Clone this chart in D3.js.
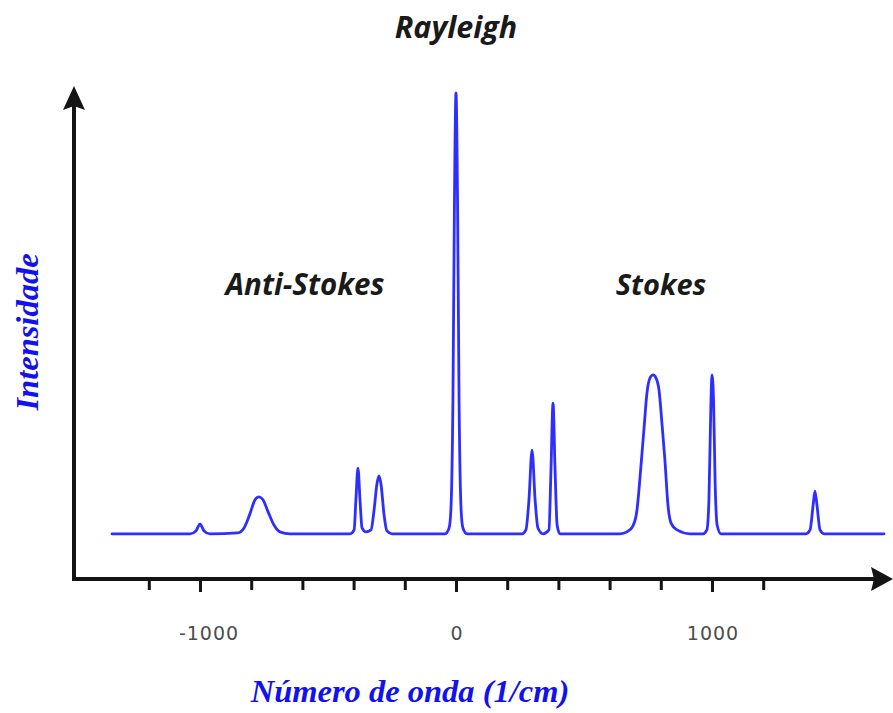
<!DOCTYPE html>
<html>
<head>
<meta charset="utf-8">
<script src="https://cdn.jsdelivr.net/npm/d3@7"></script>
<style>
  html, body { margin: 0; padding: 0; background: #ffffff; }
  svg { display: block; }
</style>
</head>
<body>
<div id="chart"></div>
<script>
// ---- data ----
// wavenumber shift (cm^-1) of the traced spectrum points
const wavenumber = [
  -1344, -1039, -1016, -1000, -984, -961,
  -852, -828, -805, -785, -770, -754, -734, -711, -688, -648,
  -414, -398, -391, -383, -375, -367, -352,
  -332, -320, -309, -301, -293, -281, -270, -250,
  -43, -27, -20, -12, -6, 0, 6, 12, 20, 27, 43,
  258, 273, 285, 297, 309, 320, 340,
  363, 371, 379, 387, 395, 406,
  641, 668, 691, 707, 719, 734, 746, 758, 770, 781, 793, 805, 816, 828, 840, 863, 914,
  965, 980, 988, 996, 1000, 1006, 1012, 1020, 1035,
  1367, 1383, 1395, 1402, 1410, 1422, 1438, 1672
];
// relative intensity (Rayleigh peak = 100) at each point
const intensity = [
  9.3, 9.3, 9.9, 11.3, 9.9, 9.3,
  9.5, 10.5, 13.4, 16.3, 16.9, 16.3, 13.8, 11.1, 9.7, 9.3,
  9.3, 10.1, 16.3, 22.8, 16.3, 10.5, 9.7,
  10.1, 14.2, 19.5, 21.2, 19.5, 13.2, 9.9, 9.3,
  9.3, 10.5, 14.2, 36.8, 78.0, 100, 78.0, 36.8, 14.2, 10.5, 9.3,
  9.3, 10.1, 16.3, 26.5, 16.3, 10.5, 9.3,
  10.1, 22.4, 36.2, 22.4, 11.1, 9.3,
  9.3, 9.7, 10.9, 14.2, 21.0, 30.7, 38.3, 41.4, 42.0, 41.4, 38.9, 31.7, 24.5, 15.2, 11.5, 10.1, 9.3,
  9.3, 10.1, 16.3, 36.8, 42.0, 36.8, 20.4, 11.1, 9.3,
  9.3, 10.1, 15.2, 18.1, 15.2, 10.1, 9.3, 9.3
];
const tickValues = [-1200, -1000, -800, -600, -400, -200, 0, 200, 400, 600, 800, 1000, 1200];
const tickLabels = ["-1000", "0", "1000"];
const labeledTicks = [-1000, 0, 1000];
const peakLabels = ["Rayleigh", "Anti-Stokes", "Stokes"];
const yTitle = "Intensidade";
const xTitle = "Número de onda (1/cm)";

// ---- layout ----
const W = 893, H = 713;
const svg = d3.select("#chart").append("svg").attr("width", W).attr("height", H);

const x = d3.scaleLinear().domain([-1000, 1000]).range([200, 712]);
const y = d3.scaleLinear().domain([0, 100]).range([579, 93]);

const axisX0 = 74, axisY0 = 579;
const axisColor = "#141414";

// axes lines
svg.append("line").attr("x1", axisX0).attr("x2", 876).attr("y1", axisY0).attr("y2", axisY0)
  .attr("stroke", axisColor).attr("stroke-width", 4);
svg.append("line").attr("x1", axisX0).attr("x2", axisX0).attr("y1", axisY0 + 2).attr("y2", 106)
  .attr("stroke", axisColor).attr("stroke-width", 4);
// arrow heads
svg.append("path").attr("d", `M893,${axisY0} L871,${axisY0 - 12} L874,${axisY0} L871,${axisY0 + 12} Z`)
  .attr("fill", axisColor);
svg.append("path").attr("d", `M${axisX0},86 L${axisX0 - 11},110 L${axisX0},106 L${axisX0 + 11},110 Z`)
  .attr("fill", axisColor);

// ticks via d3 axis
const xAxis = d3.axisBottom(x).tickValues(tickValues).tickSize(0).tickFormat("");
const gx = svg.append("g").attr("transform", `translate(0,${axisY0})`).call(xAxis);
gx.select(".domain").remove();
gx.selectAll(".tick line")
  .attr("y1", 0)
  .attr("y2", d => labeledTicks.includes(d) ? 13 : 11)
  .attr("stroke", axisColor).attr("stroke-width", 3);

// tick labels
svg.append("g").selectAll("text").data(labeledTicks).join("text")
  .attr("x", d => x(d) + (d < 0 ? 9 : 1))
  .attr("y", 640)
  .attr("text-anchor", "middle")
  .attr("font-family", "'DejaVu Sans', sans-serif")
  .attr("font-size", 19)
  .attr("letter-spacing", 1)
  .attr("fill", "#4d4d4d")
  .text((d, i) => tickLabels[i]);

// spectrum line
const pts = wavenumber.map((w, i) => [w, intensity[i]]);
const line = d3.line().x(d => x(d[0])).y(d => y(d[1])).curve(d3.curveMonotoneX);
svg.append("path").datum(pts)
  .attr("d", line)
  .attr("fill", "none")
  .attr("stroke", "#2e2eff")
  .attr("stroke-width", 2.8)
  .attr("stroke-linejoin", "round")
  .attr("stroke-linecap", "round");

// peak labels
const labelFont = "'Open Sans', 'Noto Sans', sans-serif";
const labelPos = [[456, 38, 30.5], [305, 295, 29.5], [661, 295, 29]];
peakLabels.forEach((t, i) => {
  svg.append("text").attr("x", labelPos[i][0]).attr("y", labelPos[i][1]).attr("text-anchor", "middle")
    .attr("font-family", labelFont).attr("font-weight", "bold").attr("font-style", "italic")
    .attr("font-size", labelPos[i][2]).attr("fill", "#1a1a1a").text(t);
});

// axis titles
const titleFont = "'Liberation Serif', 'Times New Roman', serif";
svg.append("text")
  .attr("transform", "translate(38,332) rotate(-90)")
  .attr("text-anchor", "middle")
  .attr("font-family", titleFont).attr("font-weight", "bold").attr("font-style", "italic")
  .attr("font-size", 32.5).attr("fill", "#1212ee").text(yTitle);
svg.append("text")
  .attr("x", 410).attr("y", 702)
  .attr("text-anchor", "middle")
  .attr("font-family", titleFont).attr("font-weight", "bold").attr("font-style", "italic")
  .attr("font-size", 32.5).attr("fill", "#1212ee").text(xTitle);
</script>
</body>
</html>
